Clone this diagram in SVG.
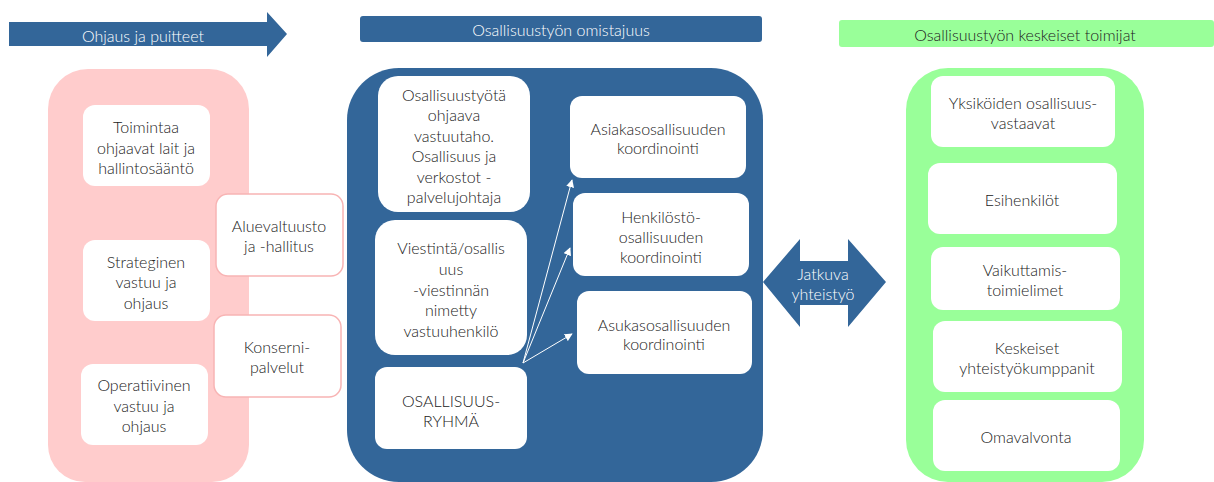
<svg xmlns="http://www.w3.org/2000/svg" width="1214" height="482" viewBox="0 0 1214 482">
<defs>
<style>
text{font-family:Lato,"Open Sans","Liberation Sans",sans-serif;font-size:16px;font-weight:300;fill:#222;text-anchor:middle;dominant-baseline:central}
.w{fill:#fff}
.box{fill:#fff}
.pbox{fill:#fff;stroke:#f8b4b4;stroke-width:1.5}
.blue{fill:#336699}
.conn{stroke:#fff;stroke-width:1;fill:none}
</style>
<marker id="ah" viewBox="0 0 10 10" refX="9" refY="5" markerWidth="8" markerHeight="8" orient="auto" markerUnits="userSpaceOnUse">
<path d="M0,0 L10,5 L0,10 z" fill="#fff"/>
</marker>
</defs>
<rect width="1214" height="482" fill="#fff"/>

<g id="header-ohjaus">
<path class="blue" d="M9,22 H267 V12 L287,34 L267,57 V46 H9 z"/>
<text class="w" x="143" y="35">Ohjaus ja puitteet</text>
</g>
<g id="header-omistajuus">
<rect class="blue" x="360" y="16" width="402" height="26" rx="3"/>
<text class="w" x="561" y="29">Osallisuustyön omistajuus</text>
</g>
<g id="header-toimijat">
<rect x="839" y="20" width="375" height="27" rx="3" fill="#99ff99"/>
<text x="1025" y="34">Osallisuustyön keskeiset toimijat</text>
</g>

<g id="container-pink">
<path d="M48,109 A40,40 0 0 1 88,69 H209 A40,40 0 0 1 249,109 V445 A37,37 0 0 1 212,482 H85 A37,37 0 0 1 48,445 z" fill="#ffcccc"/>
</g>
<g id="node-toimintaa">
<rect class="box" x="83" y="105" width="127" height="81" rx="12"/>
<text x="146" y="126">Toimintaa</text>
<text x="146" y="147">ohjaavat lait ja</text>
<text x="146" y="167">hallintosääntö</text>
</g>
<g id="node-strateginen">
<rect class="box" x="83" y="240" width="127" height="81" rx="12"/>
<text x="146" y="261">Strateginen</text>
<text x="146" y="281">vastuu ja</text>
<text x="146" y="302">ohjaus</text>
</g>
<g id="node-operatiivinen">
<rect class="box" x="81" y="364" width="127" height="81" rx="12"/>
<text x="144" y="384">Operatiivinen</text>
<text x="144" y="405">vastuu ja</text>
<text x="144" y="425">ohjaus</text>
</g>
<g id="node-aluevaltuusto">
<rect class="pbox" x="216" y="194" width="127" height="82" rx="12"/>
<text x="279" y="225">Aluevaltuusto</text>
<text x="279" y="245">ja -hallitus</text>
</g>
<g id="node-konserni">
<rect class="pbox" x="214" y="315" width="127" height="82" rx="12"/>
<text x="277" y="346">Konserni-</text>
<text x="277" y="366">palvelut</text>
</g>

<g id="container-blue">
<path class="blue" d="M347,120 A52,52 0 0 1 399,68 H711 A52,52 0 0 1 763,120 V430 A52,52 0 0 1 711,482 H399 A52,52 0 0 1 347,430 z"/>
</g>
<g id="node-vastuutaho">
<rect class="box" x="378" y="76" width="152" height="136" rx="20"/>
<text x="454" y="94">Osallisuustyötä</text>
<text x="454" y="114">ohjaava</text>
<text x="454" y="135">vastuutaho.</text>
<text x="454" y="155">Osallisuus ja</text>
<text x="454" y="176">verkostot -</text>
<text x="454" y="196">palvelujohtaja</text>
</g>
<g id="node-viestinta">
<rect class="box" x="375" y="220" width="152" height="135" rx="20"/>
<text x="451" y="247">Viestintä/osallis</text>
<text x="451" y="268">uus</text>
<text x="451" y="289">-viestinnän</text>
<text x="451" y="309">nimetty</text>
<text x="451" y="330">vastuuhenkilö</text>
</g>
<g id="node-ryhma">
<rect class="box" x="375" y="367" width="152" height="82" rx="12"/>
<text x="451" y="400">OSALLISUUS-</text>
<text x="451" y="420">RYHMÄ</text>
</g>
<g id="node-asiakas">
<rect class="box" x="570" y="96" width="176" height="82" rx="12"/>
<text x="658" y="128">Asiakasosallisuuden</text>
<text x="658" y="147">koordinointi</text>
</g>
<g id="node-henkilosto">
<rect class="box" x="573" y="193" width="176" height="83" rx="12"/>
<text x="661" y="216">Henkilöstö-</text>
<text x="661" y="236">osallisuuden</text>
<text x="661" y="256">koordinointi</text>
</g>
<g id="node-asukas">
<rect class="box" x="577" y="291" width="175" height="83" rx="12"/>
<text x="664" y="324">Asukasosallisuuden</text>
<text x="664" y="343">koordinointi</text>
</g>

<g id="connectors">
<line class="conn" x1="523" y1="363" x2="572" y2="180" marker-end="url(#ah)"/>
<line class="conn" x1="523" y1="363" x2="570" y2="248" marker-end="url(#ah)"/>
<line class="conn" x1="523" y1="363" x2="572" y2="334" marker-end="url(#ah)"/>
</g>

<g id="node-jatkuva">
<path class="blue" d="M763,282 L800,239 V261 H848 V239 L886,282 L848,327 V305 H800 V327 z"/>
<text class="w" x="823" y="273">Jatkuva</text>
<text class="w" x="823" y="293">yhteistyö</text>
</g>

<g id="container-green">
<path d="M906,110 A42,42 0 0 1 948,68 H1102 A42,42 0 0 1 1144,110 V440 A42,42 0 0 1 1102,482 H948 A42,42 0 0 1 906,440 z" fill="#99ff99"/>
</g>
<g id="node-yksikoiden">
<rect class="box" x="931" y="76" width="184" height="71" rx="12"/>
<text x="1023" y="102">Yksiköiden osallisuus-</text>
<text x="1023" y="122">vastaavat</text>
</g>
<g id="node-esihenkilot">
<rect class="box" x="928" y="163" width="189" height="71" rx="12"/>
<text x="1022" y="199">Esihenkilöt</text>
</g>
<g id="node-vaikuttamis">
<rect class="box" x="931" y="247" width="189" height="63" rx="12"/>
<text x="1025" y="269">Vaikuttamis-</text>
<text x="1025" y="289">toimielimet</text>
</g>
<g id="node-keskeiset">
<rect class="box" x="933" y="321" width="189" height="71" rx="12"/>
<text x="1027" y="347">Keskeiset</text>
<text x="1027" y="367">yhteistyökumppanit</text>
</g>
<g id="node-omavalvonta">
<rect class="box" x="933" y="400" width="187" height="71" rx="12"/>
<text x="1026" y="436">Omavalvonta</text>
</g>
</svg>
